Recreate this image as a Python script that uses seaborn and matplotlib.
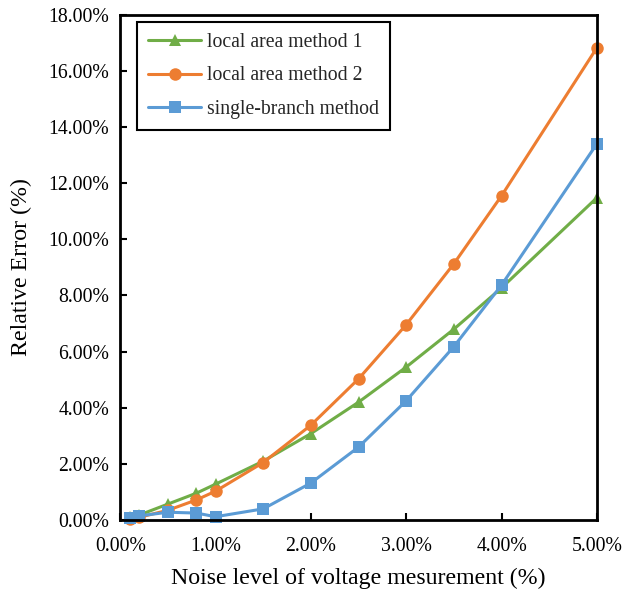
import matplotlib
matplotlib.use("Agg")
import matplotlib.pyplot as plt
import seaborn as sns
import pandas as pd
from matplotlib.ticker import FuncFormatter, MultipleLocator

noise = [0.1, 0.2, 0.5, 0.8, 1.0, 1.5, 2.0, 2.5, 3.0, 3.5, 4.0, 5.0]
method1 = [0.10, 0.18, 0.57, 0.96, 1.28, 2.10, 3.08, 4.20, 5.45, 6.80, 8.27, 11.48]
method2 = [0.05, 0.10, 0.35, 0.72, 1.03, 2.05, 3.38, 5.03, 6.96, 9.13, 11.55, 16.82]
single = [0.08, 0.15, 0.28, 0.25, 0.12, 0.40, 1.32, 2.60, 4.25, 6.18, 8.37, 13.40]
series_names = ["local area method 1", "local area method 2", "single-branch method"]

sns.set_theme(style="white")
plt.rcParams["font.family"] = ["Liberation Serif", "DejaVu Serif"]

df = pd.concat([
    pd.DataFrame({"x": noise, "y": vals, "series": name})
    for name, vals in zip(series_names, [method1, method2, single])
])

fig = plt.figure(figsize=(6.23, 5.89), dpi=100)
ax = fig.add_axes([0.193, 0.117, 0.765, 0.858])
palette = {"local area method 1": "#70AD47", "local area method 2": "#ED7D31",
           "single-branch method": "#5B9BD5"}
markers = {"local area method 1": "^", "local area method 2": "o",
           "single-branch method": "s"}
sns.lineplot(data=df, x="x", y="y", hue="series", style="series", palette=palette,
             markers=markers, dashes=False, linewidth=2.2, markersize=9,
             markeredgewidth=0, ax=ax)
for ln in ax.lines:
    ln.set_clip_on(False)

ax.set_xlim(0, 5)
ax.set_ylim(0, 18)
ax.xaxis.set_major_locator(MultipleLocator(1))
ax.yaxis.set_major_locator(MultipleLocator(2))
ax.xaxis.set_major_formatter(FuncFormatter(lambda v, p: f"{v:.2f}%"))
ax.yaxis.set_major_formatter(FuncFormatter(lambda v, p: f"{v:.2f}%"))
ax.tick_params(axis="both", direction="in", length=5, width=1.5, color="black",
               labelsize=14.2, labelcolor="black")
ax.tick_params(axis="x", bottom=True, top=False, pad=12)
ax.tick_params(axis="y", left=True, right=False, pad=8)
for s in ax.spines.values():
    s.set_visible(True)
    s.set_color("black")
    s.set_linewidth(2)
ax.set_xlabel("Noise level of voltage mesurement (%)", fontsize=17.2, color="black", labelpad=9)
ax.set_ylabel("Relative Error (%)", fontsize=17.2, color="black", labelpad=12)

leg = ax.legend(loc="upper left", bbox_to_anchor=(0.036, 0.986), borderaxespad=0,
                fontsize=14.2, frameon=True, fancybox=False, edgecolor="black",
                framealpha=1, handlelength=2.7, borderpad=0.55, labelspacing=0.75,
                handletextpad=0.3)
leg.get_frame().set_linewidth(1.5)

fig.savefig("out.png", dpi=100)
